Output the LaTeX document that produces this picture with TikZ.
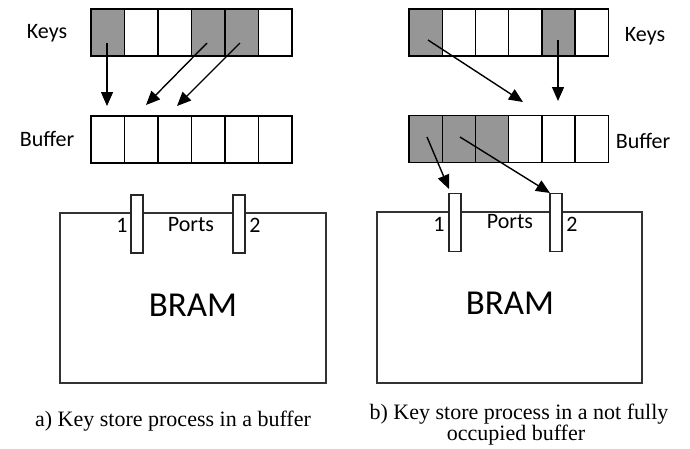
\documentclass[tikz,border=0pt]{standalone}
\usepackage{fontspec}
\setmainfont{Liberation Serif}
\newfontfamily\calfont{Carlito}
\usetikzlibrary{arrows.meta}
\definecolor{cellgray}{RGB}{150,150,150}
\tikzset{
  cellbox/.style={draw=black, line width=1.4pt, minimum width=#1, minimum height=47pt, inner sep=0pt, fill=white},
  cellbox/.default=33.5pt,
  shaded/.style={fill=cellgray},
  lbl/.style={font=\calfont\fontsize{22}{26}\selectfont, inner sep=0pt},
  bramlbl/.style={font=\calfont\fontsize{35}{40}\selectfont, inner sep=0pt},
  brambox/.style={draw=black!80, line width=1.3pt, inner sep=0pt},
  portbox/.style={draw=black!85, line width=1.3pt, fill=white, minimum width=12pt, minimum height=58pt, inner sep=0pt},
  arr/.style={line width=1.4pt, -{Triangle[length=14pt,width=12pt]}},
  captxt/.style={font=\fontsize{22}{22}\selectfont, inner sep=0pt, anchor=base}
}
\begin{document}
\begin{tikzpicture}[x=1pt,y=-1pt]
\useasboundingbox (0,0) rectangle (690,448);
% ---- left (a) ----
\foreach \i/\s in {1/shaded,2/,3/,4/shaded,5/shaded,6/} {
  \node[cellbox, \s] (kL\i) at ({91+33.5*(\i-0.5)},32.5) {};
  \node[cellbox] (bL\i) at ({91+33.5*(\i-0.5)},139.5) {};
}
\node[lbl] (keysL) at (47,33) {Keys};
\node[lbl] (bufL) at (47,139) {Buffer};
\coordinate (sL1) at (107,43);
\coordinate (sL2) at (207,43);
\coordinate (sL3) at (240,43);
\coordinate (eL1) at (107,106);
\coordinate (eL2) at (146,105);
\coordinate (eL3) at (177,106);
\draw[arr] (sL1) -- (eL1);
\draw[arr] (sL2) -- (eL2);
\draw[arr] (sL3) -- (eL3);
\node[brambox, minimum width=266pt, minimum height=170pt] (bramL) at (193,298) {};
\node[portbox] (pL1) at (137,224) {};
\node[portbox] (pL2) at (239,224) {};
\node[lbl] (nL1) at (122,225) {1};
\node[lbl] (portsL) at (191,225) {Ports};
\node[lbl] (nL2) at (255,225) {2};
\node[bramlbl] (bramtL) at (193,305) {BRAM};
% ---- right (b) ----
\foreach \i/\s/\t in {1/shaded/shaded,2//shaded,3//shaded,4//,5/shaded/,6//} {
  \node[cellbox=33.2pt, \s] (kR\i) at ({409+33.2*(\i-0.5)},32.5) {};
  \node[cellbox=33.2pt, \t] (bR\i) at ({409+33.2*(\i-0.5)},139) {};
}
\node[lbl] (keysR) at (645,36) {Keys};
\node[lbl] (bufR) at (643,141) {Buffer};
\coordinate (sR1) at (428,40);
\coordinate (sR2) at (558,40);
\coordinate (eR1) at (523,102);
\coordinate (eR2) at (558,101);
\draw[arr] (sR1) -- (eR1);
\draw[arr] (sR2) -- (eR2);
\node[brambox, minimum width=265pt, minimum height=171pt] (bramR) at (509.5,297.5) {};
\node[portbox] (pR1) at (455,222.5) {};
\node[portbox] (pR2) at (556,222.5) {};
\coordinate (sR3) at (427,137);
\coordinate (sR4) at (460,137);
\coordinate (eR3) at (449,189);
\coordinate (eR4) at (550,193);
\draw[arr] (sR3) -- (eR3);
\draw[arr] (sR4) -- (eR4);
\node[lbl] (nR1) at (439,224) {1};
\node[lbl] (portsR) at (510,222) {Ports};
\node[lbl] (nR2) at (572,224) {2};
\node[bramlbl] (bramtR) at (510,303) {BRAM};
% captions
\node[captxt] (capA) at (173,426) {a) Key store process in a buffer};
\node[captxt] (capB1) at (519,419) {b) Key store process in a not fully};
\node[captxt] (capB2) at (516,440) {occupied buffer};
\end{tikzpicture}
\end{document}
